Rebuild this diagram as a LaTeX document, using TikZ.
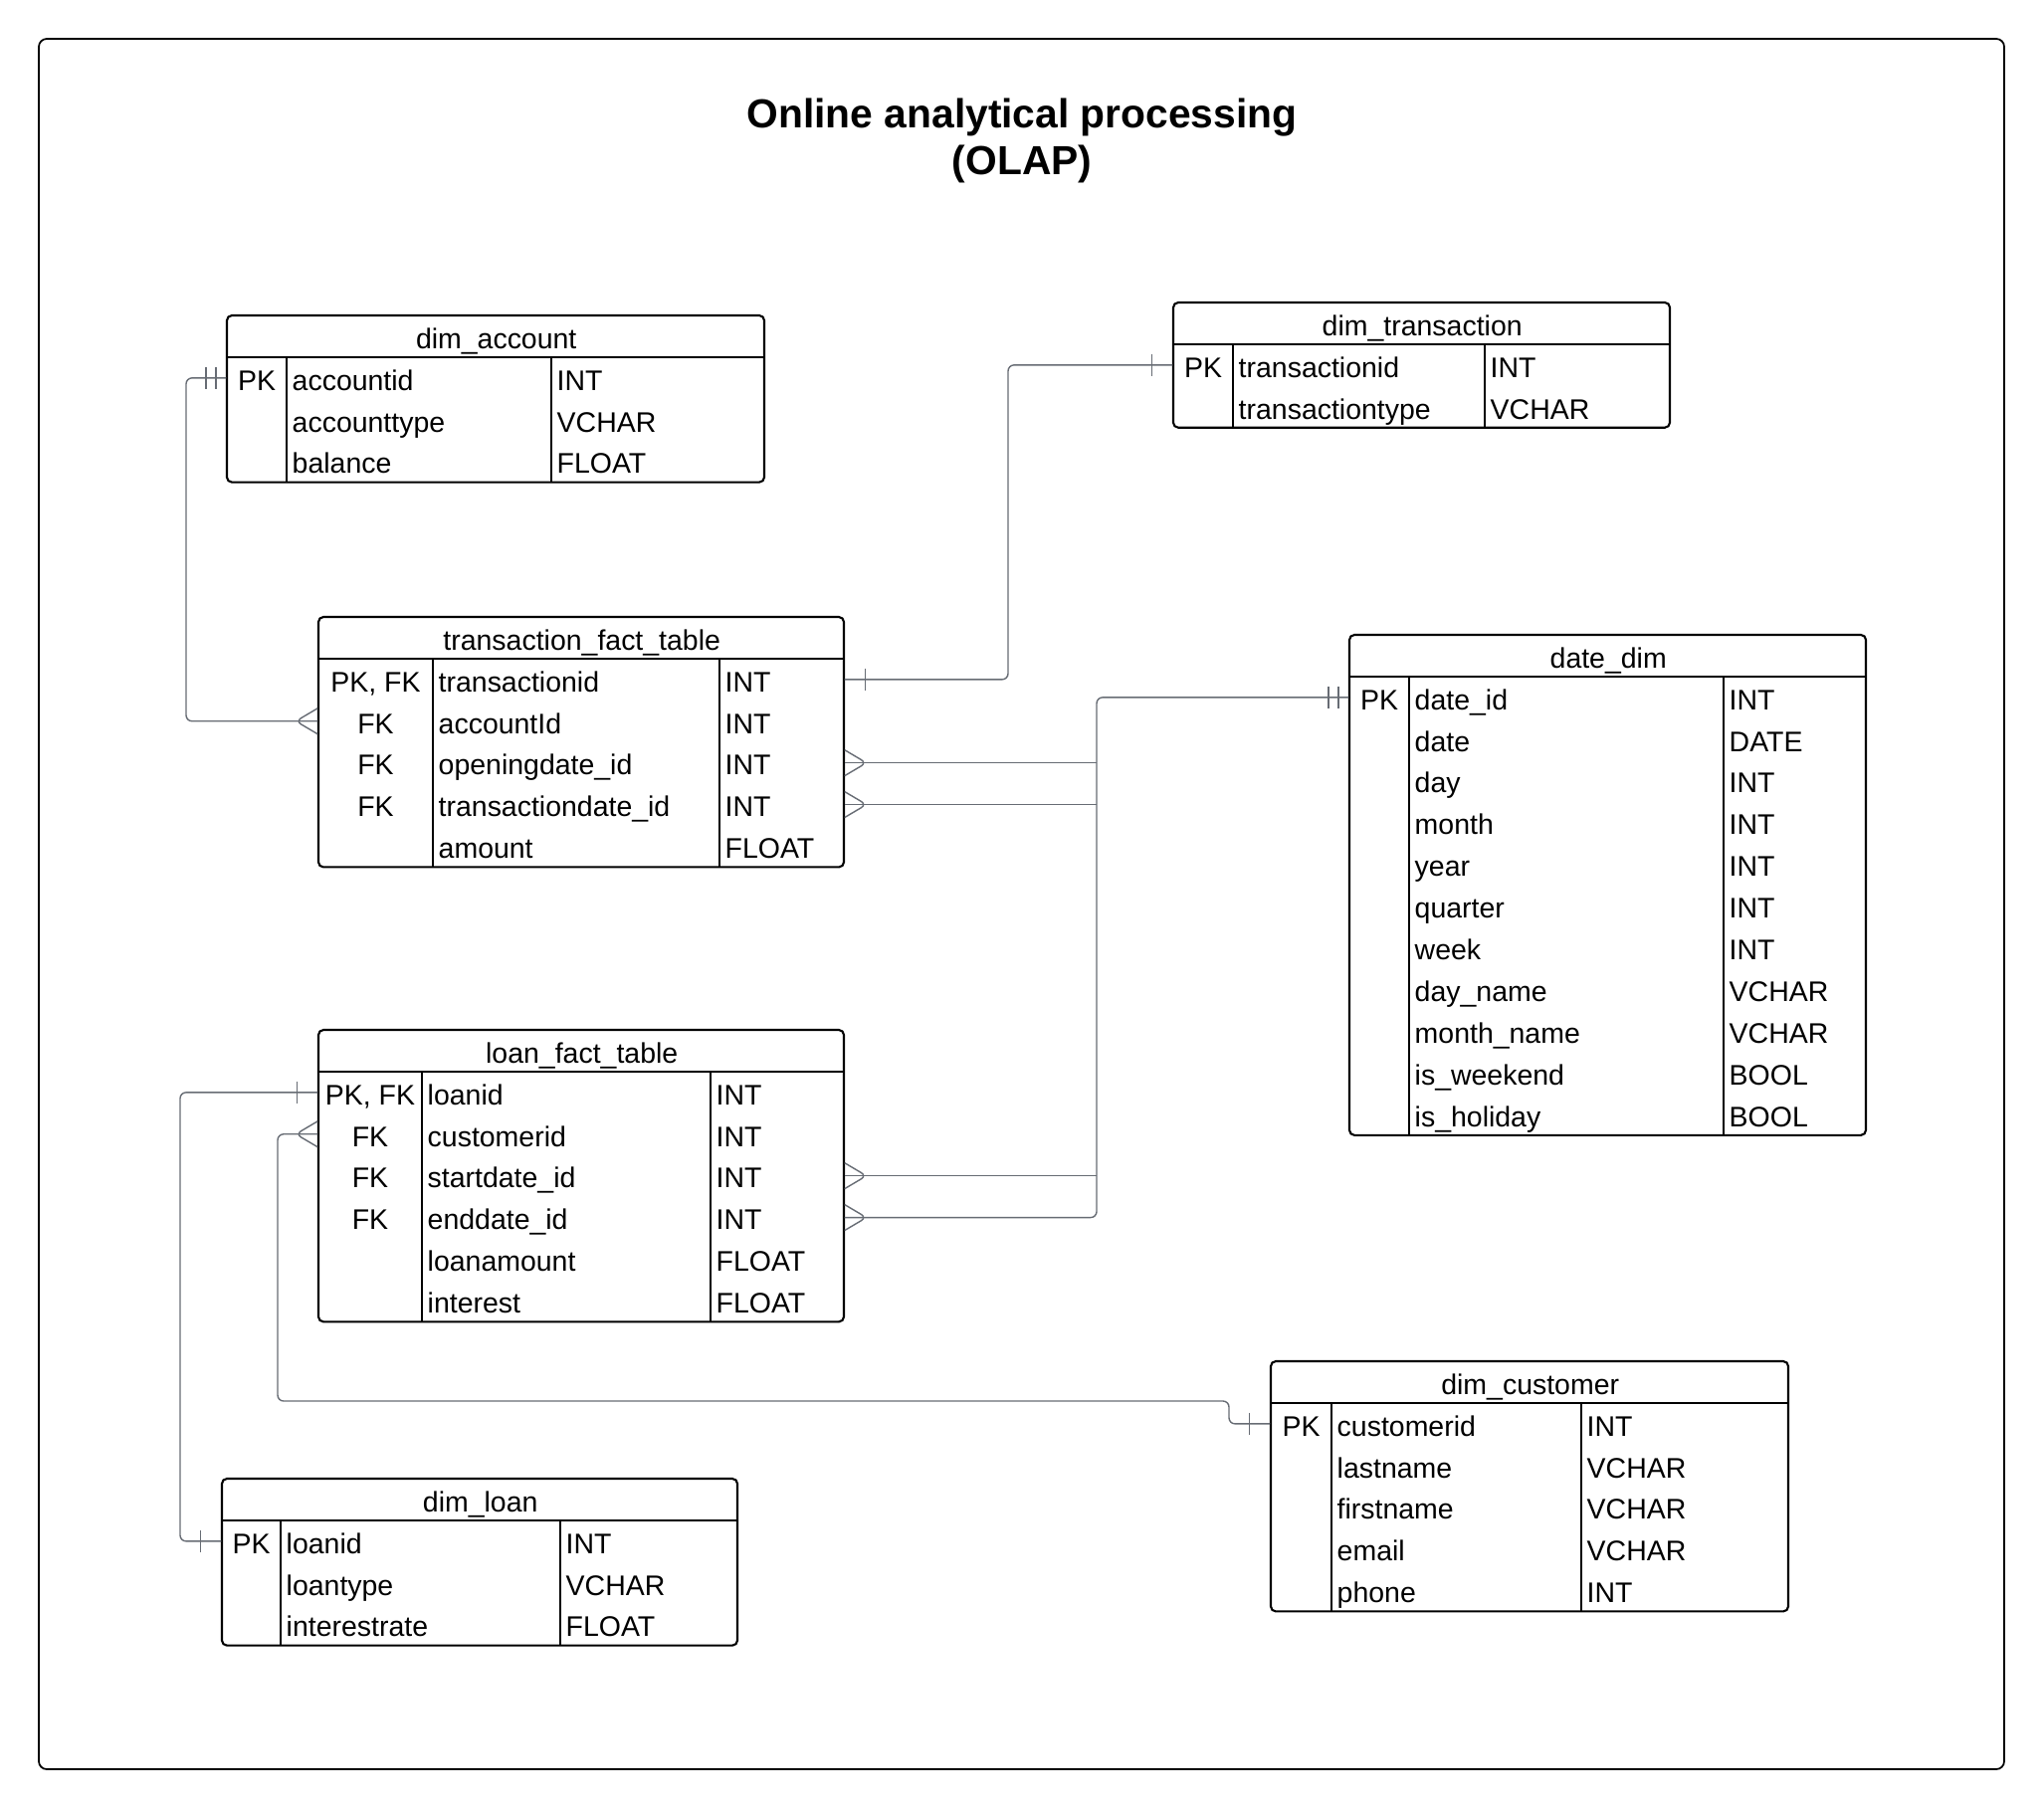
\documentclass[tikz,border=0pt]{standalone}
\usepackage{fontspec}
\setmainfont{Liberation Sans}
\usepackage{tikz}
\usetikzlibrary{calc}
\definecolor{conngray}{HTML}{676C74}
\newcommand{\rowh}{4.19}
\newcommand{\tabfont}{\fontsize{8.1}{10}\selectfont}
\tikzset{
  outerframe/.style={draw=black, line width=0.5pt, rounded corners=0.8mm},
  titletext/.style={align=center, inner sep=0pt, font=\fontsize{11.6}{13.4}\selectfont\bfseries},
  tablebox/.style={draw=black, line width=0.6pt, rounded corners=0.5mm},
  tablerule/.style={draw=black, line width=0.6pt},
  headcell/.style={minimum height=\rowh mm, inner sep=0pt, font=\tabfont, text height=0.85em, text depth=0.15em},
  rowcell/.style={minimum height=\rowh mm, inner sep=0pt},
  keytext/.style={inner sep=0pt, font=\tabfont, text height=0.85em, text depth=0.15em},
  celltext/.style={anchor=west, inner xsep=0.5mm, inner ysep=0pt, font=\tabfont, text height=0.85em, text depth=0.15em},
  conn/.style={draw=conngray, line width=0.4pt, rounded corners=0.6mm},
  onebar/.pic={\draw[conn] (2.1,-1.1) -- (2.1,1.1);},
  twobar/.pic={\draw[conn] (1.05,-1.1) -- (1.05,1.1) (2.05,-1.1) -- (2.05,1.1);},
  crowfoot/.pic={\draw[conn] (0,-1.3) -- (2.2,0) -- (0,1.3);}
}
% #1 name, #2 left, #3 top, #4 key rule, #5 type rule, #6 right, #7 rows, #8 title, #9 key/field/type list
\newcommand{\ertable}[9]{%
  \pgfmathsetmacro\tabw{#6-#2}%
  \pgfmathsetmacro\tabb{#3+(#7+1)*\rowh}%
  \node[headcell, minimum width=\tabw mm, anchor=north west] (#1) at (#2,#3) {#8};
  \foreach \ekey/\efield/\etype [count=\i] in {#9}{
    \pgfmathsetmacro\rowy{#3+(\i+0.5)*\rowh}
    \node[rowcell, minimum width=\tabw mm] (#1-\i) at ({(#2+#6)/2},\rowy) {};
    \node[keytext] (#1-\i-key) at ({(#2+#4)/2},\rowy) {\ekey};
    \node[celltext] (#1-\i-name) at (#4,\rowy) {\efield};
    \node[celltext] (#1-\i-type) at (#5,\rowy) {\etype};
  }
  \draw[tablebox] (#2,#3) rectangle (#6,\tabb);
  \draw[tablerule] (#2,{#3+\rowh}) -- (#6,{#3+\rowh})
    (#4,{#3+\rowh}) -- (#4,\tabb) (#5,{#3+\rowh}) -- (#5,\tabb);
}

\begin{document}
\begin{tikzpicture}[x=1mm,y=-1mm]
  \fill[white] (0,0) rectangle (205.4,181.9);
  \useasboundingbox (0,0) rectangle (205.4,181.9);
  \draw[outerframe] (3.9,3.9) rectangle (201.4,177.8);
  \node[titletext] (title) at (102.7,14.15) {Online analytical processing\\(OLAP)};

  % tables
  \ertable{acc}{22.8}{31.7}{28.8}{55.4}{76.8}{3}{dim\_account}
    {PK/accountid/INT, {}/accounttype/VCHAR, {}/balance/FLOAT}
  \ertable{dtr}{117.9}{30.4}{123.9}{149.2}{167.8}{2}{dim\_transaction}
    {PK/transactionid/INT, {}/transactiontype/VCHAR}
  \ertable{tft}{32.0}{62.0}{43.5}{72.3}{84.8}{5}{transaction\_fact\_table}
    {{PK, FK}/transactionid/INT, FK/accountId/INT, FK/openingdate\_id/INT,
     FK/transactiondate\_id/INT, {}/amount/FLOAT}
  \ertable{dd}{135.6}{63.8}{141.6}{173.2}{187.5}{11}{date\_dim}
    {PK/date\_id/INT, {}/date/DATE, {}/day/INT, {}/month/INT, {}/year/INT,
     {}/quarter/INT, {}/week/INT, {}/day\_name/VCHAR, {}/month\_name/VCHAR,
     {}/is\_weekend/BOOL, {}/is\_holiday/BOOL}
  \ertable{lft}{32.0}{103.5}{42.4}{71.4}{84.8}{6}{loan\_fact\_table}
    {{PK, FK}/loanid/INT, FK/customerid/INT, FK/startdate\_id/INT,
     FK/enddate\_id/INT, {}/loanamount/FLOAT, {}/interest/FLOAT}
  \ertable{dc}{127.7}{136.8}{133.8}{158.9}{179.7}{5}{dim\_customer}
    {PK/customerid/INT, {}/lastname/VCHAR, {}/firstname/VCHAR,
     {}/email/VCHAR, {}/phone/INT}
  \ertable{dl}{22.3}{148.6}{28.2}{56.3}{74.1}{3}{dim\_loan}
    {PK/loanid/INT, {}/loantype/VCHAR, {}/interestrate/FLOAT}

  % routing points
  \coordinate (bus-acc) at (18.7,0);
  \coordinate (bus-tr) at (101.3,0);
  \coordinate (bus-dd) at (110.2,0);
  \coordinate (bus-ln) at (18.1,0);
  \coordinate (bus-cu) at (27.9,140.8);
  \coordinate (jog-cu) at (123.5,140.8);

  % relations
  \draw[conn] (acc-1.west) -- (acc-1.west -| bus-acc) |- (tft-2.west);
  \draw[conn] (tft-1.east) -- (tft-1.east -| bus-tr) |- (dtr-1.west);
  \draw[conn] (dd-1.west) -- (dd-1.west -| bus-dd) -- (lft-4.east -| bus-dd) -- (lft-4.east);
  \draw[conn] (tft-3.east) -- (tft-3.east -| bus-dd);
  \draw[conn] (tft-4.east) -- (tft-4.east -| bus-dd);
  \draw[conn] (lft-3.east) -- (lft-3.east -| bus-dd);
  \draw[conn] (lft-1.west) -- (lft-1.west -| bus-ln) |- (dl-1.west);
  \draw[conn] (lft-2.west) -| (bus-cu) -- (jog-cu) |- (dc-1.west);

  % end marks
  \pic[xscale=-1] at (acc-1.west) {twobar};
  \pic[xscale=-1] at (tft-2.west) {crowfoot};
  \pic at (tft-1.east) {onebar};
  \pic[xscale=-1] at (dtr-1.west) {onebar};
  \pic[xscale=-1] at (dd-1.west) {twobar};
  \pic at (tft-3.east) {crowfoot};
  \pic at (tft-4.east) {crowfoot};
  \pic at (lft-3.east) {crowfoot};
  \pic at (lft-4.east) {crowfoot};
  \pic[xscale=-1] at (lft-1.west) {onebar};
  \pic[xscale=-1] at (dl-1.west) {onebar};
  \pic[xscale=-1] at (lft-2.west) {crowfoot};
  \pic[xscale=-1] at (dc-1.west) {onebar};
\end{tikzpicture}
\end{document}
